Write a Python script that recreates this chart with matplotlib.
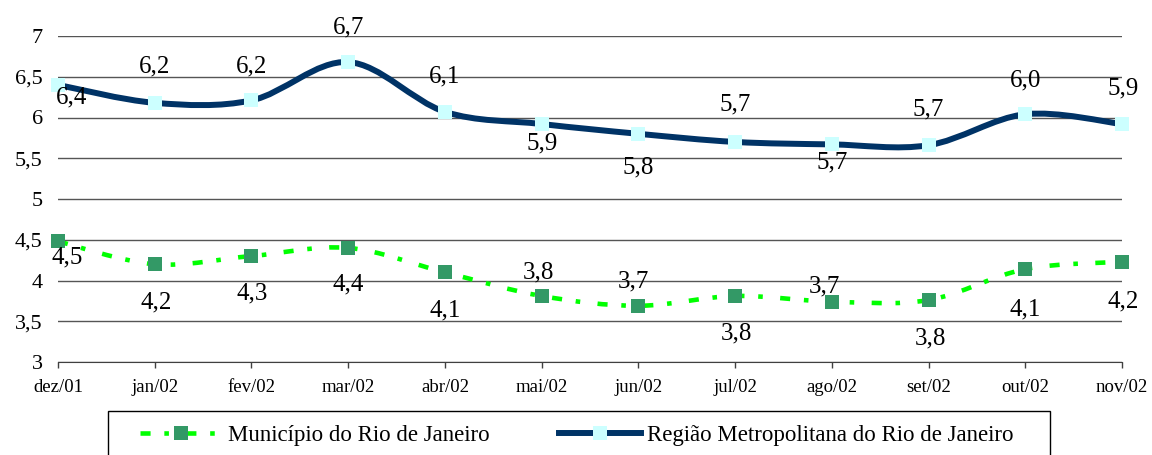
import matplotlib
matplotlib.use("Agg")
import matplotlib.pyplot as plt
from matplotlib.path import Path
from matplotlib.patches import PathPatch, Rectangle
from matplotlib.lines import Line2D

plt.rcParams["font.family"] = ["Liberation Serif", "DejaVu Serif"]

MESES = ["dez/01", "jan/02", "fev/02", "mar/02", "abr/02", "mai/02",
         "jun/02", "jul/02", "ago/02", "set/02", "out/02", "nov/02"]
MUNICIPIO = [4.48, 4.20, 4.30, 4.40, 4.10, 3.81, 3.69, 3.81, 3.74, 3.76, 4.14, 4.23]
REGIAO = [6.40, 6.18, 6.21, 6.68, 6.07, 5.92, 5.80, 5.70, 5.67, 5.66, 6.04, 5.92]
Y_TICKS = [3, 3.5, 4, 4.5, 5, 5.5, 6, 6.5, 7]

NOME_MUN = "Município do Rio de Janeiro"
NOME_REG = "Região Metropolitana do Rio de Janeiro"

# deslocamento dos rotulos (pixels) em relacao ao marcador
OFF_REG = [(14, -13), (0, 36), (0, 34), (0, 35), (0, 35), (0, -19),
           (0, -34), (0, 37), (0, -18), (0, 36), (0, 34), (1, 36)]
OFF_MUN = [(9, -16), (1, -38), (1, -37), (0, -37), (0, -38), (-3, 24),
           (-5, 24), (1, -37), (-7, 15), (2, -38), (0, -40), (1, -40)]

COR_REG = "#003366"
COR_REG_MK = "#CCFFFF"
COR_MUN = "#00FF00"
COR_MUN_MK = "#339966"
TRACO_MUN = (0, (2.2, 3.0, 1.0, 3.8))


def curva_suave(xs, ys):
    # spline de Catmull-Rom convertida em curvas de Bezier
    pts = list(zip(xs, ys))
    verts = [pts[0]]
    codes = [Path.MOVETO]
    n = len(pts)
    for i in range(n - 1):
        p0 = pts[max(i - 1, 0)]
        p1 = pts[i]
        p2 = pts[i + 1]
        p3 = pts[min(i + 2, n - 1)]
        c1 = (p1[0] + (p2[0] - p0[0]) / 6, p1[1] + (p2[1] - p0[1]) / 6)
        c2 = (p2[0] - (p3[0] - p1[0]) / 6, p2[1] - (p3[1] - p1[1]) / 6)
        verts += [c1, c2, p2]
        codes += [Path.CURVE4] * 3
    return Path(verts, codes)


def fmt(v):
    return f"{v:.1f}".replace(".", ",")


def main():
    fig = plt.figure(figsize=(11.52, 4.55), dpi=100)
    ax = fig.add_axes([58 / 1152, 1 - 362 / 455, 1064 / 1152, 326 / 455])
    x = list(range(len(MESES)))

    ax.set_xlim(0, len(MESES) - 1)
    ax.set_ylim(3, 7)
    ax.set_yticks(Y_TICKS)
    ax.set_yticklabels([str(int(t)) if t == int(t) else fmt(t) for t in Y_TICKS])
    ax.set_xticks(x)
    ax.set_xticklabels(MESES)
    ax.tick_params(axis="y", length=0, pad=11, labelsize=16)
    ax.tick_params(axis="x", length=4, width=1, pad=8, labelsize=13.5, color="#404040")
    ax.grid(axis="y", color="#555555", linewidth=1)
    ax.set_axisbelow(True)
    for lado in ["top", "right", "left"]:
        ax.spines[lado].set_visible(False)
    ax.spines["bottom"].set_color("#404040")

    pm = PathPatch(curva_suave(x, MUNICIPIO), facecolor="none", edgecolor=COR_MUN,
                   linewidth=3.3, linestyle=TRACO_MUN, capstyle="butt", zorder=3, clip_on=False)
    ax.add_patch(pm)
    pr = PathPatch(curva_suave(x, REGIAO), facecolor="none", edgecolor=COR_REG,
                   linewidth=4.3, capstyle="round", zorder=3, clip_on=False)
    ax.add_patch(pr)

    ax.plot(x, MUNICIPIO, linestyle="none", marker="s", markersize=10,
            markerfacecolor=COR_MUN_MK, markeredgewidth=0, zorder=4, clip_on=False)
    ax.plot(x, REGIAO, linestyle="none", marker="s", markersize=9.5,
            markerfacecolor=COR_REG_MK, markeredgewidth=0, zorder=4, clip_on=False)

    for xi, v, (dx, dy) in zip(x, REGIAO, OFF_REG):
        ax.annotate(fmt(v), (xi, v), xytext=(dx * 0.72, dy * 0.72), textcoords="offset points",
                    ha="center", va="center", fontsize=18, zorder=5, annotation_clip=False)
    for xi, v, (dx, dy) in zip(x, MUNICIPIO, OFF_MUN):
        ax.annotate(fmt(v), (xi, v), xytext=(dx * 0.72, dy * 0.72), textcoords="offset points",
                    ha="center", va="center", fontsize=18, zorder=5, annotation_clip=False)

    h_mun = Line2D([], [], color=COR_MUN, linewidth=3.3, linestyle=TRACO_MUN, marker="s",
                   markersize=10, markerfacecolor=COR_MUN_MK, markeredgewidth=0)
    h_reg = Line2D([], [], color=COR_REG, linewidth=4.3, marker="s", markersize=9.5,
                   markerfacecolor=COR_REG_MK, markeredgewidth=0)
    fig.legend([h_mun, h_reg], [NOME_MUN, NOME_REG], ncol=2, frameon=False,
               loc="center left", bbox_to_anchor=(140 / 1152, 1 - 435 / 455),
               borderpad=0, borderaxespad=0, handlelength=3.6, handletextpad=0.25,
               columnspacing=3.0, fontsize=16.5)
    fig.patches.append(Rectangle((108 / 1152, -0.05), 942 / 1152, 0.05 + 1 - 411 / 455,
                                 transform=fig.transFigure, fill=False, edgecolor="black",
                                 linewidth=1))

    fig.savefig("out.png", dpi=100)
    plt.close(fig)


if __name__ == "__main__":
    main()
